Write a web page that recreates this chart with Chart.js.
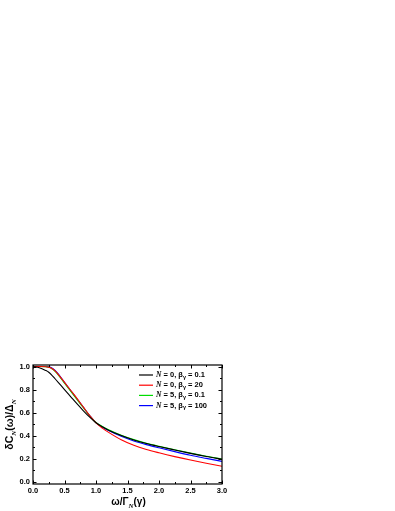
<!DOCTYPE html>
<html><head><meta charset="utf-8">
<script src="https://cdn.jsdelivr.net/npm/chart.js@4/dist/chart.umd.min.js"></script>
<style>html,body{margin:0;padding:0;background:#fff;}#wrap{width:395px;height:511px;position:relative;}</style>
</head><body><div id="wrap"><canvas id="c" width="395" height="511"></canvas></div>
<script>
const xValues   = [0, 0.1, 0.2, 0.25, 0.3, 0.35, 0.4, 0.5, 0.6, 0.7, 0.8, 0.9, 1.0, 1.1, 1.2, 1.4, 1.6, 1.8, 2.0, 2.25, 2.5, 2.75, 3.0];
const n0b01     = [1.0, 0.99, 0.966, 0.95, 0.924, 0.894, 0.863, 0.80, 0.738, 0.676, 0.616, 0.561, 0.513, 0.478, 0.449, 0.402, 0.364, 0.333, 0.307, 0.277, 0.248, 0.221, 0.197];
const n0b20     = [1.0, 1.0, 0.998, 0.993, 0.982, 0.962, 0.932, 0.862, 0.792, 0.722, 0.648, 0.575, 0.512, 0.467, 0.43, 0.366, 0.318, 0.282, 0.253, 0.22, 0.19, 0.162, 0.136];
const n5b01     = [1.0, 1.0, 0.998, 0.993, 0.98, 0.958, 0.928, 0.855, 0.784, 0.713, 0.643, 0.573, 0.515, 0.481, 0.452, 0.405, 0.367, 0.336, 0.31, 0.279, 0.25, 0.223, 0.199];
const n5b100    = [1.0, 1.0, 1.0, 0.997, 0.988, 0.967, 0.936, 0.862, 0.79, 0.719, 0.647, 0.576, 0.514, 0.477, 0.447, 0.396, 0.356, 0.324, 0.296, 0.263, 0.232, 0.205, 0.179];
const seriesNVal = ['0', '0', '5', '5'];
const seriesBeta = ['0.1', '20', '0.1', '100'];
const seriesColor = ['#000000', '#ff0000', '#00dd00', '#0000ff'];
const xTickLabels = [0, 0.5, 1.0, 1.5, 2.0, 2.5, 3.0];
const yTickLabels = [0, 0.2, 0.4, 0.6, 0.8, 1.0];

const allSeries = [n0b01, n0b20, n5b01, n5b100];
const datasets = allSeries.map((arr, i) => ({
  label: 'N = ' + seriesNVal[i] + ', βγ = ' + seriesBeta[i],
  data: xValues.map((x, j) => ({x: x, y: arr[j]})),
  borderColor: seriesColor[i],
  borderWidth: 1.1,
  pointRadius: 0,
  fill: false,
  cubicInterpolationMode: 'monotone'
}));

function drawRich(ctx, x, y, segs, align) {
  let total = 0;
  segs.forEach(s => { ctx.font = s.font; s.w = ctx.measureText(s.t).width; total += s.w; });
  let cx = align === 'center' ? x - total / 2 : x;
  segs.forEach(s => { ctx.font = s.font; ctx.fillText(s.t, cx, y + (s.dy || 0)); cx += s.w; });
}

const framePlugin = {
  id: 'frame',
  afterDraw(chart) {
    const ctx = chart.ctx, a = chart.chartArea;
    const xs = chart.scales.x, ys = chart.scales.y;
    ctx.save();
    ctx.strokeStyle = '#000'; ctx.lineWidth = 1.2;
    ctx.strokeRect(a.left, a.top, a.right - a.left, a.bottom - a.top);
    ctx.lineWidth = 1;
    ctx.beginPath();
    for (let v = 0; v <= 3.0001; v += 0.25) {
      const px = Math.round(xs.getPixelForValue(v)) + 0.5;
      const major = Math.abs(v / 0.5 - Math.round(v / 0.5)) < 1e-6;
      const L = major ? 3.5 : 2;
      ctx.moveTo(px, a.bottom); ctx.lineTo(px, a.bottom - L);
      ctx.moveTo(px, a.top); ctx.lineTo(px, a.top + L);
    }
    for (let v = 0; v <= 1.0001; v += 0.1) {
      const py = Math.round(ys.getPixelForValue(v)) + 0.5;
      const major = Math.abs(v / 0.2 - Math.round(v / 0.2)) < 1e-6;
      const L = major ? 3.5 : 2;
      ctx.moveTo(a.left, py); ctx.lineTo(a.left + L, py);
      ctx.moveTo(a.right, py); ctx.lineTo(a.right - L, py);
    }
    ctx.stroke();

    // legend
    ctx.fillStyle = '#000';
    ctx.textBaseline = 'middle';
    const lx0 = 139, lx1 = 153, ly0 = 375, dly = 10.2;
    datasets.forEach((d, i) => {
      const y = ly0 + i * dly;
      ctx.strokeStyle = seriesColor[i]; ctx.lineWidth = 1.2;
      ctx.beginPath(); ctx.moveTo(lx0, y); ctx.lineTo(lx1, y); ctx.stroke();
      drawRich(ctx, 156, y, [
        {t: 'N', font: 'italic bold 7.5px "Liberation Serif"'},
        {t: ' = ' + seriesNVal[i] + ', β', font: 'bold 7.5px "Liberation Sans"'},
        {t: 'γ', font: 'bold 5.5px "Liberation Sans"', dy: 2},
        {t: ' = ' + seriesBeta[i], font: 'bold 7.5px "Liberation Sans"'}
      ], 'left');
    });

    // x title
    ctx.textBaseline = 'alphabetic';
    drawRich(ctx, (a.left + a.right) / 2 + 1, 505, [
      {t: 'ω/Γ', font: 'bold 10px "Liberation Sans"'},
      {t: 'N', font: 'italic bold 7px "Liberation Serif"', dy: 2.5},
      {t: '(γ)', font: 'bold 10px "Liberation Sans"'}
    ], 'center');

    // y title
    ctx.save();
    ctx.translate(13, (a.top + a.bottom) / 2);
    ctx.rotate(-Math.PI / 2);
    drawRich(ctx, 0, 0, [
      {t: 'δC', font: 'bold 10.5px "Liberation Sans"'},
      {t: 'N', font: 'italic bold 7px "Liberation Serif"', dy: 2.5},
      {t: '(ω)/Δ', font: 'bold 10.5px "Liberation Sans"'},
      {t: 'N', font: 'italic bold 7px "Liberation Serif"', dy: 2.5}
    ], 'center');
    ctx.restore();
    ctx.restore();
  }
};

new Chart(document.getElementById('c'), {
  type: 'line',
  data: { datasets: datasets },
  options: {
    responsive: false,
    animation: false,
    devicePixelRatio: 1,
    layout: { padding: { left: 0, right: 173, top: 365, bottom: 0 } },
    plugins: { legend: { display: false }, tooltip: { enabled: false } },
    scales: {
      x: {
        type: 'linear', min: 0, max: 3,
        afterBuildTicks: s => { s.ticks = xTickLabels.map(v => ({value: v})); },
        afterFit: s => { s.height = 27; },
        ticks: { color: '#000', padding: 2, font: { family: 'Liberation Sans', weight: 'bold', size: 7.5 }, callback: v => Number(v).toFixed(1), maxRotation: 0 },
        grid: { display: false, drawTicks: false },
        border: { display: false }
      },
      y: {
        type: 'linear', min: -0.017, max: 1.013,
        afterBuildTicks: s => { s.ticks = yTickLabels.map(v => ({value: v})); },
        afterFit: s => { s.width = 33; },
        ticks: { color: '#000', padding: 3, font: { family: 'Liberation Sans', weight: 'bold', size: 7.5 }, callback: v => Number(v).toFixed(1) },
        grid: { display: false, drawTicks: false },
        border: { display: false }
      }
    }
  },
  plugins: [framePlugin]
});
</script></body></html>
